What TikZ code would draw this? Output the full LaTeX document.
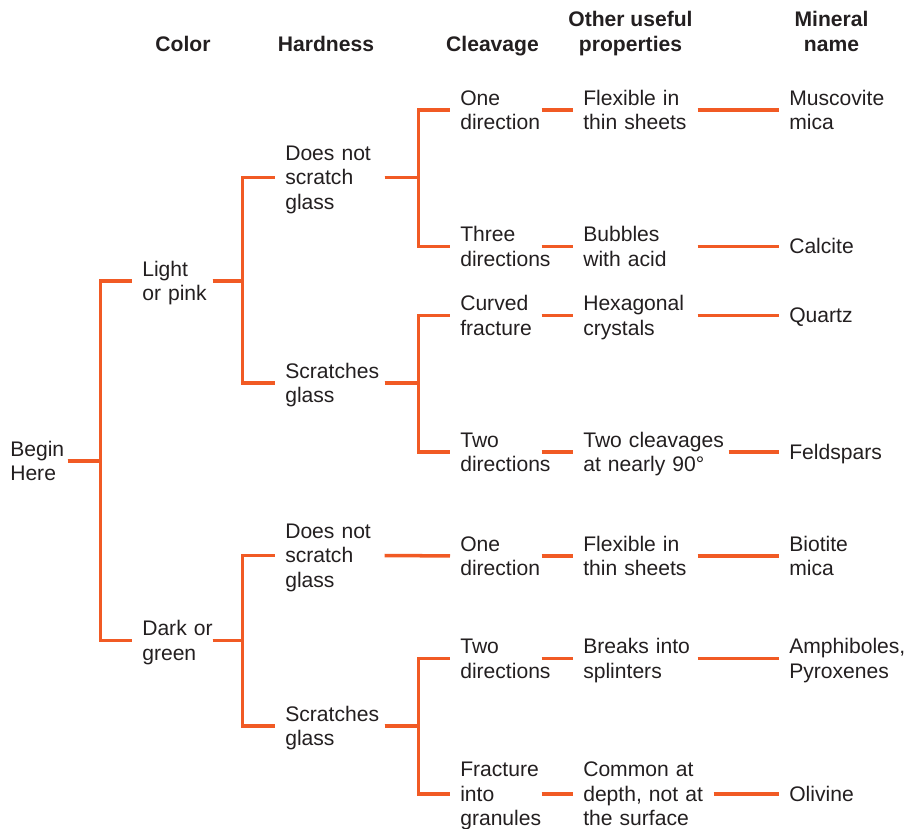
\documentclass[tikz,border=0pt]{standalone}
\usepackage{fontspec}
\setmainfont{Liberation Sans}
\usepackage{xcolor}
\usepackage{tikz}
\definecolor{KeyOrange}{HTML}{F15A24}
\definecolor{TextDark}{HTML}{231F20}
\newcommand{\keyfont}{\fontsize{15}{17.4}\selectfont\hyphenpenalty=10000\relax}
\newcommand{\topstrut}{\rule{0pt}{15pt}}
\newcommand{\botstrut}{\rule[-4.5pt]{0pt}{4.5pt}}

\begin{document}
\begin{tikzpicture}[x=0.025cm, y=-0.025cm,
      tx/.style={anchor=west, inner sep=0pt, align=left, font=\keyfont, text=TextDark,
          execute at begin node=\topstrut, execute at end node=\botstrut},
      hd/.style={inner sep=0pt, align=center, font=\keyfont\bfseries, text=TextDark,
          execute at begin node=\strut, execute at end node=\strut},
      startcol/.style={tx, text width=1.425cm},
      colorcol/.style={tx, text width=1.75cm},
      hardcol/.style={tx, text width=2.475cm},
      cleavecol/.style={tx, text width=2.025cm},
      propcol/.style={tx, text width=2.85cm},
      namecol/.style={tx, text width=3cm},
      wire/.style={draw=KeyOrange, line width=2.5pt, shorten >=0.25cm},
    ]
    \useasboundingbox (0,0) rectangle (908,829);

    % Headings
    \node[hd] (hcolor) at (183,46.6)   {Color};
    \node[hd] (hhard)  at (326,46.6)   {Hardness};
    \node[hd] (hcleave) at (492.5,46.6) {Cleavage};
    \node[hd] (hprop)  at (630.5,34.9) {Other useful\\properties};
    \node[hd] (hname)  at (831.5,34.9) {Mineral\\name};

    % Start and color
    \node[startcol] (begin) at (10,461)    {Begin\\Here};
    \node[colorcol] (light) at (142,281)   {Light\\or pink};
    \node[colorcol] (dark)  at (142,640.5) {Dark~or\\green};

    % Hardness
    \node[hardcol] (hard1) at (285,177.5) {Does not\\scratch\\glass};
    \node[hardcol] (hard2) at (285,383)   {Scratches\\glass};
    \node[hardcol] (hard3) at (285,555.5) {Does not\\scratch\\glass};
    \node[hardcol] (hard4) at (285,726)   {Scratches\\glass};

    % Cleavage
    \node[cleavecol] (cl1) at (460,110)   {One\\direction};
    \node[cleavecol] (cl2) at (460,246.5) {Three\\directions};
    \node[cleavecol] (cl3) at (460,315.5) {Curved\\fracture};
    \node[cleavecol] (cl4) at (460,452)   {Two\\directions};
    \node[cleavecol] (cl5) at (460,556)   {One\\direction};
    \node[cleavecol] (cl6) at (460,658.5) {Two\\directions};
    \node[cleavecol] (cl7) at (460,794)   {Fracture\\into\\granules};

    % Other useful properties
    \node[propcol] (pr1) at (583,110)   {Flexible in\\thin sheets};
    \node[propcol] (pr2) at (583,246.5) {Bubbles\\with acid};
    \node[propcol] (pr3) at (583,315.5) {Hexagonal\\crystals};
    \node[propcol, text width=3.625cm] (pr4) at (583,452) {Two cleavages\\at nearly 90°};
    \node[propcol] (pr5) at (583,556)   {Flexible in\\thin sheets};
    \node[propcol] (pr6) at (583,658.5) {Breaks into\\splinters};
    \node[propcol, text width=3.25cm] (pr7) at (583,794) {Common at\\depth, not at\\the surface};

    % Mineral name
    \node[namecol] (mn1) at (789,110)   {Muscovite\\mica};
    \node[namecol] (mn2) at (789,246.5) {Calcite};
    \node[namecol] (mn3) at (789,315.5) {Quartz};
    \node[namecol] (mn4) at (789,452)   {Feldspars};
    \node[namecol] (mn5) at (789,556)   {Biotite\\mica};
    \node[namecol] (mn6) at (789,658.5) {Amphiboles,\\Pyroxenes};
    \node[namecol] (mn7) at (789,794)   {Olivine};

    % Branches
    \foreach \a/\b/\d in {begin/light/33, begin/dark/33,
        light/hard1/30, light/hard2/30, dark/hard3/30, dark/hard4/30,
        hard1/cl1/34, hard1/cl2/34, hard2/cl3/34, hard2/cl4/34,
        hard4/cl6/34, hard4/cl7/34}
    \draw[wire] (\a.east) -- ++(\d,0) |- (\b.west);

    % Straight links
    \foreach \a/\b in {hard3/cl5,
        cl1/pr1, cl2/pr2, cl3/pr3, cl4/pr4, cl5/pr5, cl6/pr6, cl7/pr7,
        pr1/mn1, pr2/mn2, pr3/mn3, pr4/mn4, pr5/mn5, pr6/mn6, pr7/mn7}
    \draw[wire] (\a.east) -- (\b.west);
  \end{tikzpicture}
\end{document}
